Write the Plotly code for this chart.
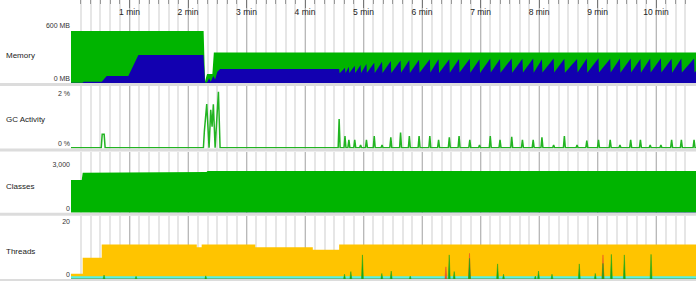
import plotly.graph_objects as go

# ---------------- data (time in seconds) ----------------
minute_ticks = [60, 120, 180, 240, 300, 360, 420, 480, 540, 600]
minute_labels = ["1 min", "2 min", "3 min", "4 min", "5 min", "6 min", "7 min", "8 min", "9 min", "10 min"]

# Memory: heap size (green) and used heap (blue), MB
heap_t = [0, 136, 137.5, 139.5, 145, 146.5, 641]
heap_mb = [590, 590, 20, 102, 102, 345, 345]

used_t_start = [0, 12, 13, 31.5, 36.6, 58.8, 69.1, 135.8, 137.5, 139.5, 141.6, 143.3, 146.0, 147.8, 150.1, 152.9]
used_mb_start = [3, 3, 15, 15, 79, 79, 317, 317, 5, 5, 53, 15, 79, 40, 128, 158]

# GC events in the steady phase (time, used heap just before, used heap just after, GC %)
gc_t = [275, 281, 285, 291, 297, 303, 311, 319, 328, 338, 347, 357, 368, 377, 388, 398, 409, 419, 430,
        440, 452, 463, 474, 483, 495, 506, 519, 529, 541, 553, 563, 574, 584, 594, 605, 616, 626, 639]
used_before = [158, 173, 185, 195, 205, 215, 228, 240, 249, 255, 260, 262, 268, 270, 268, 272, 275, 270, 276,
               272, 278, 274, 276, 270, 278, 275, 272, 276, 280, 274, 276, 278, 272, 276, 280, 274, 278, 276]
used_after = [110, 112, 112, 114, 112, 115, 113, 112, 114, 116, 112, 115, 118, 112, 115, 118, 116, 114, 120,
              117, 115, 119, 116, 118, 120, 116, 118, 115, 120, 118, 116, 119, 117, 120, 118, 116, 120, 118]
used_end_t = 641
used_end_mb = 135
gc_pct = [1.14, 0.46, 0.31, 0.31, 0.11, 0.31, 0.46, 0.11, 0.41, 0.6, 0.46, 0.46, 0.46, 0.31, 0.41, 0.46, 0.31, 0.11, 0.46,
          0.31, 0.43, 0.31, 0.31, 0.41, 0.11, 0.46, 0.11, 0.28, 0.31, 0.31, 0.11, 0.31, 0.31, 0.11, 0.11, 0.31, 0.31, 0.31]

# GC activity during start-up (%)
gc_early_t = [0, 31, 32, 34, 35, 135.8, 136.8, 139.2, 141.6, 143.3, 144.7, 146.0, 147.8, 151.2, 152.9]
gc_early_pct = [0, 0, 0.53, 0.53, 0, 0, 0.67, 1.73, 0, 1.5, 0.83, 1.72, 0, 2.22, 0]

# Classes
classes_t = [0, 11, 12, 36, 37, 139, 140, 641]
classes_loaded = [2230, 2230, 2725, 2725, 2775, 2775, 2845, 2845]
unloaded_t = [0, 139, 140, 641]
classes_unloaded = [0, 0, 25, 25]

# Threads
threads_t = [0, 12, 31.5, 129, 134, 189, 248, 275, 641]
threads_live = [2, 8, 13, 12, 13, 12, 11, 13, 13]
daemon_t = [0, 641]
threads_daemon = [1, 1]
spike_t = [33.9, 66.7, 138.2, 280.5, 287.0, 298.9, 318.8, 328.4, 347.9, 387.9, 393.0, 408.7, 437.5, 443.6,
           476.2, 479.5, 493.3, 521.3, 537.7, 545.6, 554.2, 567.5, 594.9]
spike_n = [1.5, 1.0, 1.2, 1.8, 2.8, 9.1, 2.1, 3.0, 1.1, 9.1, 2.8, 7.8, 5.7, 1.8,
           1.1, 3.0, 1.8, 5.7, 2.1, 5.9, 9.3, 9.1, 9.3]
red_t = [384.5, 408.7, 545.6]
red_n = [4.6, 9.7, 9.1]

# ---------------- build series shapes ----------------
used_t = list(used_t_start)
used_mb = list(used_mb_start)
for t, b, a in zip(gc_t, used_before, used_after):
    used_t += [t, t + 0.5]
    used_mb += [b, a]
used_t.append(used_end_t)
used_mb.append(used_end_mb)

gcx = list(gc_early_t)
gcy = list(gc_early_pct)
for t, p in zip(gc_t, gc_pct):
    gcx += [t - 1, t, t + 1]
    gcy += [0, p, 0]
gcx.append(641)
gcy.append(0)


def spikes(ts, hs):
    xs, ys = [0], [0]
    for t, h in zip(ts, hs):
        xs += [t - 1, t, t + 1]
        ys += [0, h, 0]
    xs.append(641)
    ys.append(0)
    return xs, ys


sgx, sgy = spikes(spike_t, spike_n)
srx, sry = spikes(red_t, red_n)

GREEN = "#00b400"
BLUE = "#1200b0"
YELLOW = "#ffc400"
CYAN = "#55f2e6"
FONT = "Liberation Sans, Arial, Helvetica, sans-serif"

fig = go.Figure()
fig.add_trace(go.Scatter(x=heap_t, y=heap_mb, mode="lines", fill="tozeroy", line=dict(width=0, color=GREEN),
                         fillcolor=GREEN, xaxis="x", yaxis="y", hoverinfo="skip"))
fig.add_trace(go.Scatter(x=used_t, y=used_mb, mode="lines", fill="tozeroy", line=dict(width=0, color=BLUE),
                         fillcolor=BLUE, xaxis="x", yaxis="y", hoverinfo="skip"))
fig.add_trace(go.Scatter(x=gcx, y=gcy, mode="lines", line=dict(width=1.5, color="#22b422"),
                         xaxis="x2", yaxis="y2", hoverinfo="skip"))
fig.add_trace(go.Scatter(x=classes_t, y=classes_loaded, mode="lines", fill="tozeroy", line=dict(width=0, color=GREEN),
                         fillcolor=GREEN, xaxis="x3", yaxis="y3", hoverinfo="skip"))
fig.add_trace(go.Scatter(x=unloaded_t, y=classes_unloaded, mode="lines", fill="tozeroy", line=dict(width=0, color=BLUE),
                         fillcolor=BLUE, xaxis="x3", yaxis="y3", hoverinfo="skip"))
fig.add_trace(go.Scatter(x=threads_t, y=threads_live, mode="lines", line_shape="hv", fill="tozeroy",
                         line=dict(width=0, color=YELLOW), fillcolor=YELLOW, xaxis="x4", yaxis="y4", hoverinfo="skip"))
fig.add_trace(go.Scatter(x=daemon_t, y=threads_daemon, mode="lines", fill="tozeroy",
                         line=dict(width=0, color=CYAN), fillcolor=CYAN, xaxis="x4", yaxis="y4", hoverinfo="skip"))
fig.add_trace(go.Scatter(x=srx, y=sry, mode="lines", fill="tozeroy", line=dict(width=0.5, color="#e8502a"),
                         fillcolor="#e8502a", xaxis="x4", yaxis="y4", hoverinfo="skip"))
fig.add_trace(go.Scatter(x=sgx, y=sgy, mode="lines", fill="tozeroy", line=dict(width=0.5, color="#1aa81a"),
                         fillcolor="#1aa81a", xaxis="x4", yaxis="y4", hoverinfo="skip"))

H = 281.0


def dom(top_px, bot_px):
    return [1 - bot_px / H, 1 - top_px / H]


grid = dict(showgrid=True, gridcolor="#b9b9b9", gridwidth=1, zeroline=False, showline=False,
            range=[0, 641])
minor_grid = dict(tick0=0, dtick=10, showgrid=True, gridcolor="#e6e6e6", gridwidth=2)

layout_axes = dict(
    xaxis=dict(anchor="y", side="top", tickvals=minute_ticks, ticktext=minute_labels,
               ticks="inside", ticklen=8, tickwidth=1, tickcolor="#777",
               ticklabelposition="inside", tickfont=dict(size=8.5, color="#222", family=FONT),
               minor=dict(ticks="inside", ticklen=4, tickcolor="#999", **minor_grid), **grid),
    xaxis2=dict(anchor="y2", matches="x", showticklabels=False, ticks="", tickvals=minute_ticks,
                minor=minor_grid, **grid),
    xaxis3=dict(anchor="y3", matches="x", showticklabels=False, ticks="", tickvals=minute_ticks,
                minor=minor_grid, **grid),
    xaxis4=dict(anchor="y4", matches="x", showticklabels=False, ticks="", tickvals=minute_ticks,
                minor=minor_grid, **grid),
)

ytick = dict(showgrid=False, zeroline=False, showline=False, ticks="", ticklabelshift=-4,
             tickfont=dict(size=7, color="#333", family=FONT), fixedrange=True)
layout_axes["yaxis"] = dict(domain=dom(0, 83), range=[0, 939.6], tickvals=[0, 600], ticktext=["0 MB", "600 MB"], **ytick)
layout_axes["yaxis2"] = dict(domain=dom(86, 148.5), range=[-0.032, 2.448], tickvals=[0, 2], ticktext=["0 %", "2 %"], **ytick)
layout_axes["yaxis3"] = dict(domain=dom(151.5, 212.7), range=[0, 4173], tickvals=[0, 3000], ticktext=["0", "3,000"], **ytick)
layout_axes["yaxis4"] = dict(domain=dom(215.7, 279), range=[0, 23.9], tickvals=[0, 20], ticktext=["0", "20"], **ytick)

fig.update_layout(width=696, height=281, margin=dict(l=71, r=0, t=0, b=0),
                  paper_bgcolor="white", plot_bgcolor="white", showlegend=False,
                  font=dict(family=FONT), **layout_axes)

# panel separators
for top_px, bot_px in [(83, 86), (148.5, 151.5), (212.7, 215.7), (279, 281)]:
    fig.add_shape(type="rect", xref="paper", yref="paper", x0=-71 / 625, x1=1,
                  y0=1 - bot_px / H, y1=1 - top_px / H, fillcolor="#dcdcdc", line=dict(width=0), layer="above")

# panel titles
for name, ypx in [("Memory", 55), ("GC Activity", 120), ("Classes", 186), ("Threads", 251.7)]:
    fig.add_annotation(text=name, xref="paper", yref="paper", x=(4 - 71) / 625, y=1 - ypx / H,
                       xanchor="left", yanchor="middle", showarrow=False,
                       font=dict(size=8, color="#222", family=FONT))

fig.write_html("out.html")
